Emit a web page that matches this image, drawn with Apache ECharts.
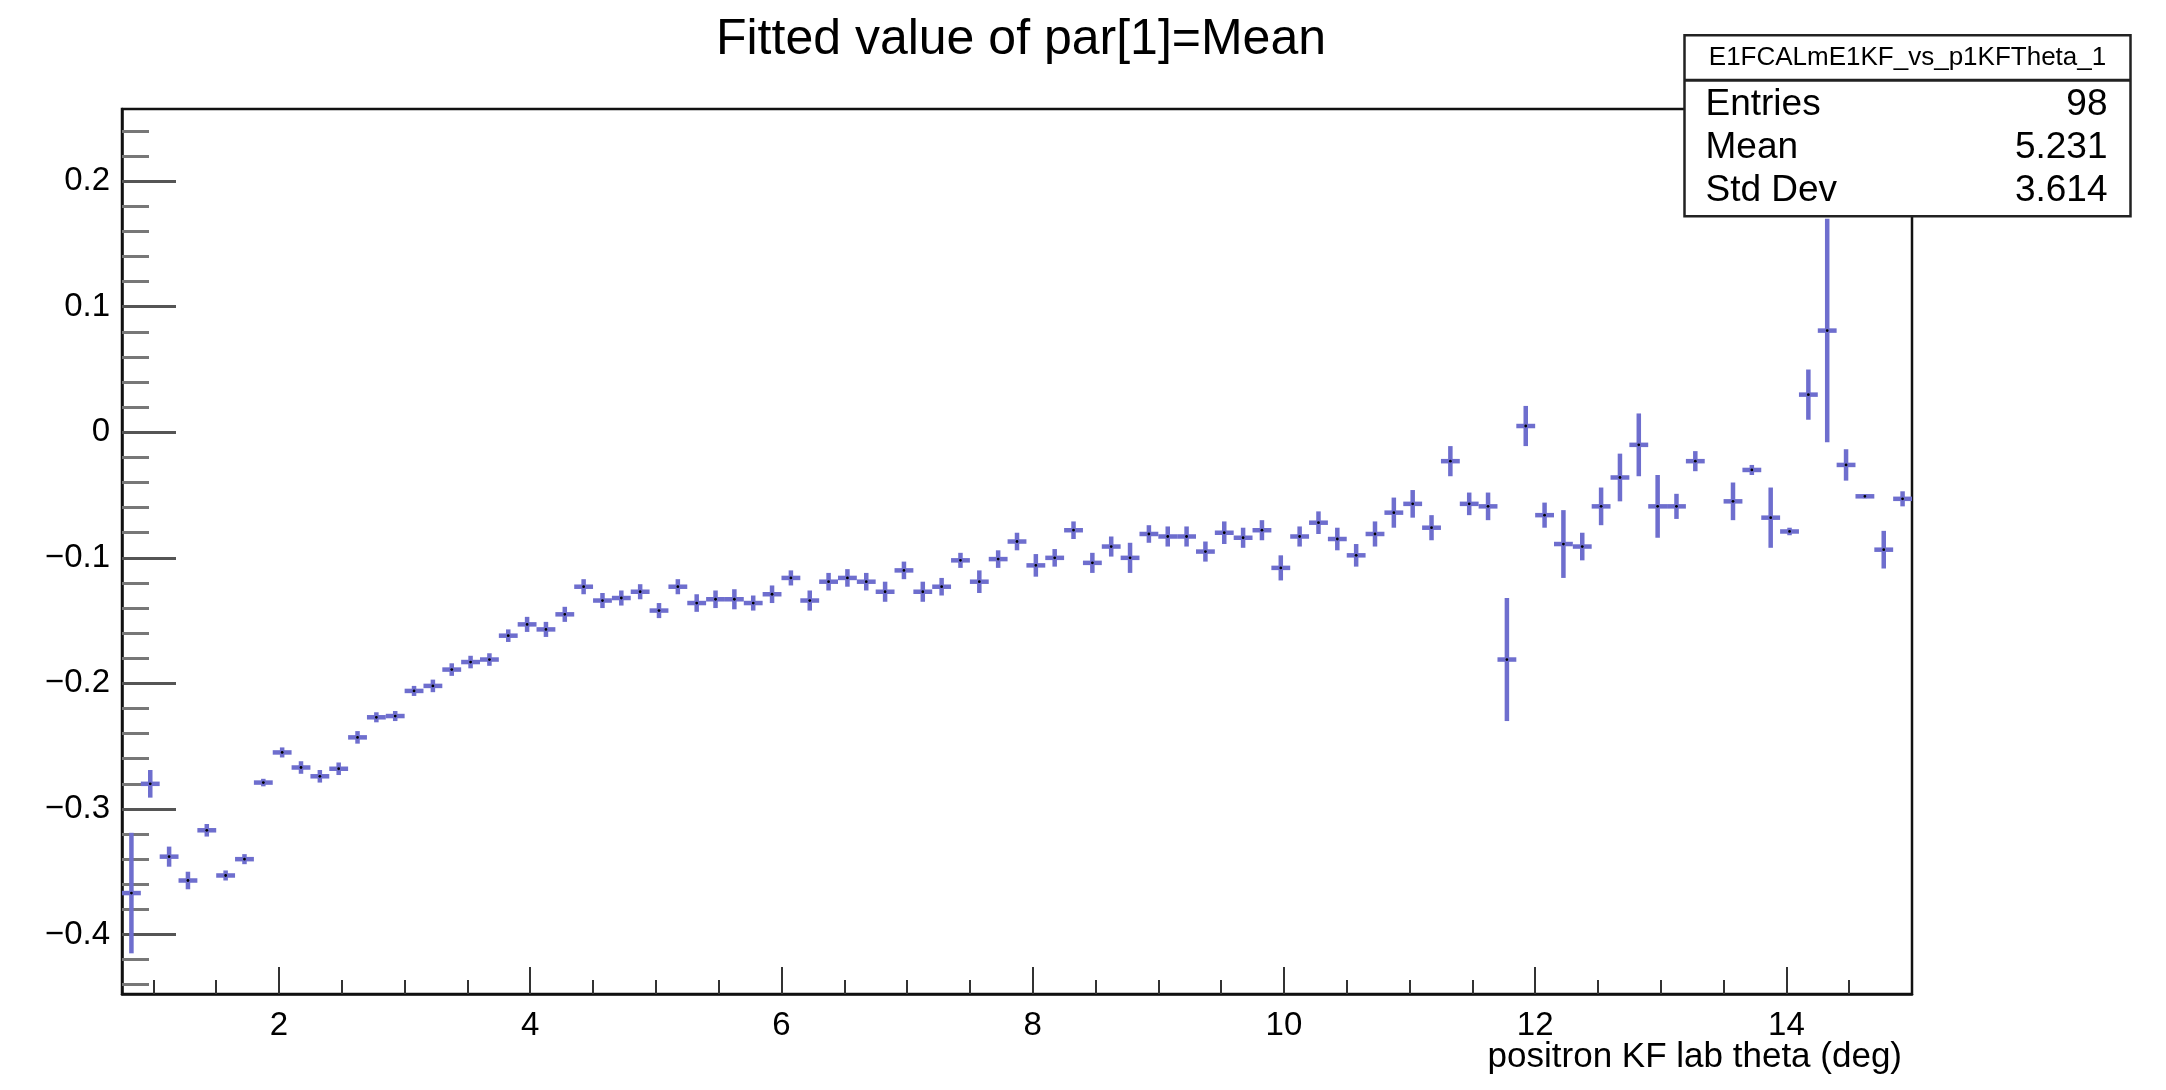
<!DOCTYPE html>
<html>
<head>
<meta charset="utf-8">
<script src="https://cdn.jsdelivr.net/npm/echarts@6/dist/echarts.min.js"></script>
<style>
html,body{margin:0;padding:0;background:#fff;}
#chart{width:2166px;height:1090px;}
</style>
</head>
<body>
<div id="chart"></div>
<script>
// ---- data ----
const chartTitle = 'Fitted value of par[1]=Mean';
const xAxisTitle = 'positron KF lab theta (deg)';
const binCenters = [
  0.825, 0.975, 1.125, 1.275, 1.425, 1.575, 1.725, 1.875, 2.025, 2.175,
  2.325, 2.475, 2.625, 2.775, 2.925, 3.075, 3.225, 3.375, 3.525, 3.675,
  3.825, 3.975, 4.125, 4.275, 4.425, 4.575, 4.725, 4.875, 5.025, 5.175,
  5.325, 5.475, 5.625, 5.775, 5.925, 6.075, 6.225, 6.375, 6.525, 6.675,
  6.825, 6.975, 7.125, 7.275, 7.425, 7.575, 7.725, 7.875, 8.025, 8.175,
  8.325, 8.475, 8.625, 8.775, 8.925, 9.075, 9.225, 9.375, 9.525, 9.675,
  9.825, 9.975, 10.125, 10.275, 10.425, 10.575, 10.725, 10.875, 11.025, 11.175,
  11.325, 11.475, 11.625, 11.775, 11.925, 12.075, 12.225, 12.375, 12.525, 12.675,
  12.825, 12.975, 13.125, 13.275, 13.425, 13.575, 13.725, 13.875, 14.025, 14.175,
  14.325, 14.475, 14.625, 14.775, 14.925
];
const meanValues = [
  -0.367, -0.280, -0.338, -0.357, -0.317, -0.353, -0.340, -0.279, -0.255, -0.267,
  -0.274, -0.268, -0.243, -0.227, -0.226, -0.206, -0.202, -0.189, -0.183, -0.181,
  -0.162, -0.153, -0.157, -0.145, -0.123, -0.134, -0.132, -0.127, -0.142, -0.123,
  -0.136, -0.133, -0.133, -0.136, -0.129, -0.116, -0.134, -0.119, -0.116, -0.119,
  -0.127, -0.110, -0.127, -0.123, -0.102, -0.119, -0.101, -0.087, -0.106, -0.100,
  -0.078, -0.104, -0.091, -0.100, -0.081, -0.083, -0.083, -0.095, -0.080, -0.084,
  -0.078, -0.108, -0.083, -0.072, -0.085, -0.098, -0.081, -0.064, -0.057, -0.076,
  -0.023, -0.057, -0.059, -0.181, 0.005, -0.066, -0.089, -0.091, -0.059, -0.036,
  -0.010, -0.059, -0.059, -0.023, null, -0.055, -0.030, -0.068, -0.079, 0.030,
  0.081, -0.026, -0.051, -0.0935, -0.053
];
const meanErrors = [
  0.048, 0.011, 0.008, 0.007, 0.005, 0.004, 0.004, 0.003, 0.004, 0.005,
  0.005, 0.005, 0.005, 0.004, 0.004, 0.004, 0.005, 0.005, 0.005, 0.005,
  0.005, 0.006, 0.006, 0.006, 0.006, 0.006, 0.006, 0.006, 0.006, 0.006,
  0.007, 0.007, 0.008, 0.006, 0.007, 0.006, 0.008, 0.007, 0.007, 0.007,
  0.008, 0.007, 0.008, 0.007, 0.006, 0.009, 0.007, 0.007, 0.009, 0.007,
  0.007, 0.008, 0.008, 0.012, 0.007, 0.008, 0.008, 0.008, 0.009, 0.008,
  0.008, 0.010, 0.008, 0.009, 0.009, 0.009, 0.010, 0.012, 0.011, 0.010,
  0.012, 0.009, 0.011, 0.049, 0.016, 0.010, 0.027, 0.011, 0.015, 0.019,
  0.025, 0.025, 0.010, 0.008, null, 0.015, 0.004, 0.024, 0.003, 0.020,
  0.089, 0.0125, 0.0015, 0.015, 0.006
];
const xMajorTicks = [2, 4, 6, 8, 10, 12, 14];
const xMinorTicks = [1, 1.5, 2.5, 3, 3.5, 4.5, 5, 5.5, 6.5, 7, 7.5, 8.5, 9, 9.5,
  10.5, 11, 11.5, 12.5, 13, 13.5, 14.5];
const yMajorTicks = [-0.4, -0.3, -0.2, -0.1, 0, 0.1, 0.2];
const yMinorTicks = [-0.44, -0.42, -0.38, -0.36, -0.34, -0.32, -0.28, -0.26, -0.24, -0.22,
  -0.18, -0.16, -0.14, -0.12, -0.08, -0.06, -0.04, -0.02, 0.02, 0.04, 0.06, 0.08,
  0.12, 0.14, 0.16, 0.18, 0.22, 0.24];
const statsName = 'E1FCALmE1KF_vs_p1KFTheta_1';
const statsLabels = ['Entries', 'Mean', 'Std Dev'];
const statsValues = ['98', '5.231', '3.614'];

// ---- axis ranges / styles ----
const X_MIN = 0.75, X_MAX = 15;
const Y_MIN = -0.4474, Y_MAX = 0.2575;
const BIN_HALF = 0.075;
const FONT = '"Liberation Sans", Arial, Helvetica, sans-serif';
const BAR_COLOR = '#6e6ece';

const points = [];
for (let i = 0; i < binCenters.length; i++) {
  if (meanValues[i] === null) continue;
  points.push([binCenters[i], meanValues[i], meanErrors[i]]);
}

function fmtY(v) {
  if (Math.abs(v) < 1e-9) return '0';
  return (v < 0 ? '\u2212' : '') + Math.abs(v).toFixed(1);
}

const chart = echarts.init(document.getElementById('chart'), null, {renderer: 'canvas'});
const L = 122, R = 1912, T = 109, B = 994;

const option = {
  animation: false,
  backgroundColor: '#ffffff',
  title: {
    text: chartTitle,
    left: 1016, top: 10, textAlign: 'center',
    textStyle: {fontFamily: FONT, fontSize: 50, fontWeight: 'normal', color: '#000'}
  },
  grid: {
    left: L, right: 2166 - R, top: T, bottom: 1090 - B,
    show: true, borderColor: '#111', borderWidth: 2.5, backgroundColor: 'transparent'
  },
  xAxis: [
    {
      type: 'value', min: X_MIN, max: X_MAX, position: 'bottom',
      axisLine: {show: true, onZero: false, lineStyle: {color: '#111', width: 2.5}},
      axisTick: {show: true, inside: true, length: 27, customValues: xMajorTicks,
        lineStyle: {color: '#333', width: 2}},
      axisLabel: {show: true, customValues: xMajorTicks, margin: 15,
        fontFamily: FONT, fontSize: 33, color: '#000',
        formatter: v => String(v)},
      splitLine: {show: false}
    },
    {
      type: 'value', min: X_MIN, max: X_MAX, position: 'bottom', offset: 0,
      axisLine: {show: false, onZero: false},
      axisTick: {show: true, inside: true, length: 14, customValues: xMinorTicks,
        lineStyle: {color: '#333', width: 2}},
      axisLabel: {show: false},
      splitLine: {show: false}
    }
  ],
  yAxis: [
    {
      type: 'value', min: Y_MIN, max: Y_MAX, position: 'left',
      axisLine: {show: true, onZero: false, lineStyle: {color: '#111', width: 2.5}},
      axisTick: {show: true, inside: true, length: 54, customValues: yMajorTicks,
        lineStyle: {color: '#555', width: 3}},
      axisLabel: {show: true, customValues: yMajorTicks, margin: 12,
        fontFamily: FONT, fontSize: 33, color: '#000', formatter: fmtY},
      splitLine: {show: false}
    },
    {
      type: 'value', min: Y_MIN, max: Y_MAX, position: 'left', offset: 0,
      axisLine: {show: false, onZero: false},
      axisTick: {show: true, inside: true, length: 27, customValues: yMinorTicks,
        lineStyle: {color: '#777', width: 3}},
      axisLabel: {show: false},
      splitLine: {show: false}
    }
  ],
  series: [{
    type: 'custom',
    xAxisIndex: 0, yAxisIndex: 0,
    data: points,
    clip: true,
    renderItem: function (params, api) {
      const x = api.value(0), y = api.value(1), e = api.value(2);
      const pl = api.coord([x - BIN_HALF, y]);
      const pr = api.coord([x + BIN_HALF, y]);
      const pt = api.coord([x, y + e]);
      const pb = api.coord([x, y - e]);
      const pc = api.coord([x, y]);
      return {
        type: 'group',
        children: [
          {type: 'line', shape: {x1: pl[0], y1: pl[1], x2: pr[0], y2: pr[1]},
            style: {stroke: BAR_COLOR, lineWidth: 4.5}},
          {type: 'line', shape: {x1: pt[0], y1: pt[1], x2: pb[0], y2: pb[1]},
            style: {stroke: BAR_COLOR, lineWidth: 4.5}},
          {type: 'circle', shape: {cx: pc[0], cy: pc[1], r: 1.4},
            style: {fill: '#000'}}
        ]
      };
    }
  }],
  graphic: [
    {
      type: 'text', right: 2166 - 1902, top: 1040, z: 50,
      style: {text: xAxisTitle, fontFamily: FONT, fontSize: 35, fill: '#000'}
    },
    {
      type: 'group', left: 1682, top: 34, z: 100,
      children: [
        {type: 'rect', shape: {x: 0, y: 0, width: 446, height: 181},
          style: {fill: '#fff', stroke: '#222', lineWidth: 2.5}},
        {type: 'line', shape: {x1: 0, y1: 45, x2: 446, y2: 45},
          style: {stroke: '#222', lineWidth: 3}},
        {type: 'text', x: 223, y: 23, style: {text: statsName, fontFamily: FONT,
          fontSize: 26, fill: '#000', align: 'center', verticalAlign: 'middle'}},
        {type: 'text', x: 21, y: 70, style: {text: statsLabels[0], fontFamily: FONT,
          fontSize: 37, fill: '#000', align: 'left', verticalAlign: 'middle'}},
        {type: 'text', x: 423, y: 70, style: {text: statsValues[0], fontFamily: FONT,
          fontSize: 37, fill: '#000', align: 'right', verticalAlign: 'middle'}},
        {type: 'text', x: 21, y: 113, style: {text: statsLabels[1], fontFamily: FONT,
          fontSize: 37, fill: '#000', align: 'left', verticalAlign: 'middle'}},
        {type: 'text', x: 423, y: 113, style: {text: statsValues[1], fontFamily: FONT,
          fontSize: 37, fill: '#000', align: 'right', verticalAlign: 'middle'}},
        {type: 'text', x: 21, y: 156, style: {text: statsLabels[2], fontFamily: FONT,
          fontSize: 37, fill: '#000', align: 'left', verticalAlign: 'middle'}},
        {type: 'text', x: 423, y: 156, style: {text: statsValues[2], fontFamily: FONT,
          fontSize: 37, fill: '#000', align: 'right', verticalAlign: 'middle'}}
      ]
    }
  ]
};
chart.setOption(option);
</script>
</body>
</html>
